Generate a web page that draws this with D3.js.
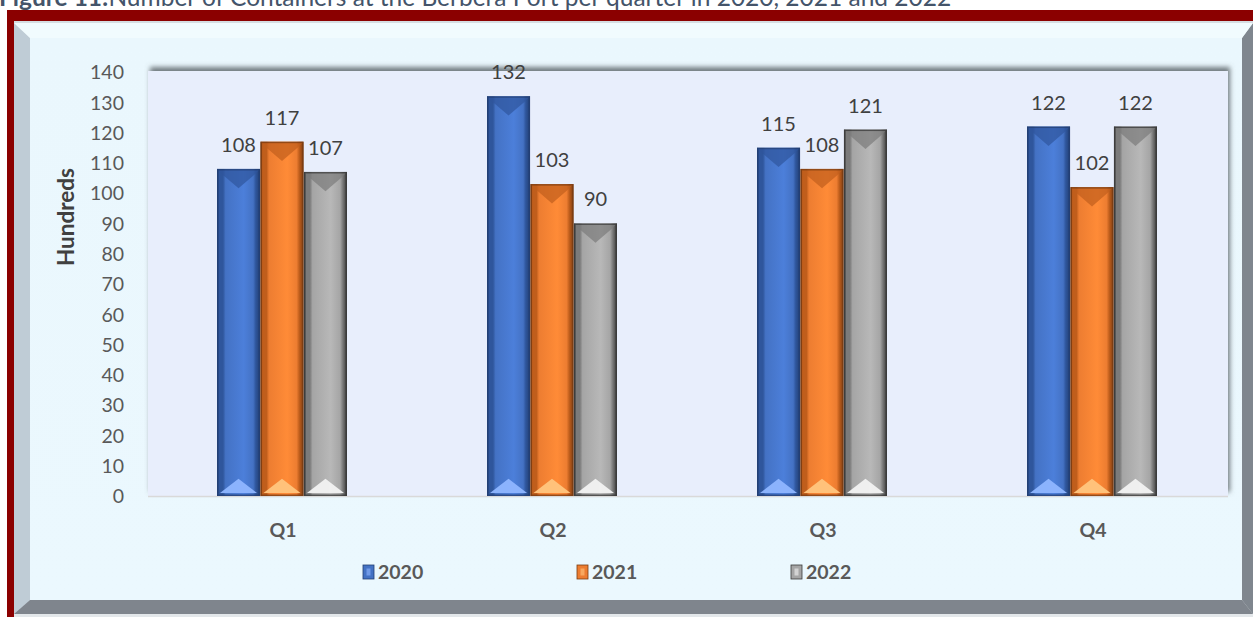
<!DOCTYPE html>
<html>
<head>
<meta charset="utf-8">
<script src="https://cdn.jsdelivr.net/npm/d3@7"></script>
<style>
  body { margin: 0; background: #fff; }
  svg { display: block; font-family: Lato, "Open Sans", sans-serif; }
</style>
</head>
<body>
<svg width="1253" height="617"></svg>
<script>
// datos
const quarters = ["Q1", "Q2", "Q3", "Q4"];
const years = ["2020", "2021", "2022"];
const values2020 = [108, 132, 115, 122];
const values2021 = [117, 103, 108, 102];
const values2022 = [107, 90, 121, 122];
const yTicks = [0, 10, 20, 30, 40, 50, 60, 70, 80, 90, 100, 110, 120, 130, 140];

const series = { "2020": values2020, "2021": values2021, "2022": values2022 };
const data = quarters.map((q, i) => ({ q, vals: years.map(y => ({ year: y, v: series[y][i] })) }));

// colores por año: base, oscuro, claro, borde
const pal = {
  "2020": { base: "#4472c4", dark: "#2f569c", light: "#8fb6ff", edge: "#233f73" },
  "2021": { base: "#ed7d31", dark: "#c05e1c", light: "#ffc57e", edge: "#7a3c12" },
  "2022": { base: "#a5a5a5", dark: "#7b7b7b", light: "#f2f2f2", edge: "#3a3a3a" }
};

const svg = d3.select("svg");
const defs = svg.append("defs");

// marco rojo (arriba e izquierda)
svg.append("rect").attr("x", 7).attr("y", 10).attr("width", 1246).attr("height", 607).attr("fill", "#8b0000");
svg.append("rect").attr("x", 14).attr("y", 614).attr("width", 1239).attr("height", 3).attr("fill", "#e3e7ea");

// panel con bisel
svg.append("rect").attr("x", 14).attr("y", 21).attr("width", 1239).attr("height", 593).attr("fill", "#d5dde2");
svg.append("polygon").attr("points", "14,23 30,38 30,600 14,614").attr("fill", "#bfccd6");
svg.append("polygon").attr("points", "1253,23 1242,38 1242,600 1253,614").attr("fill", "#7f868e");
svg.append("polygon").attr("points", "14,614 30,600 1242,600 1253,614").attr("fill", "#7f858d");
svg.append("polygon").attr("points", "14,23 1253,23 1242,38 30,38").attr("fill", "#f1fbfe");

const faceGrad = defs.append("linearGradient").attr("id", "face").attr("x1", 0).attr("y1", 0).attr("x2", 0).attr("y2", 1);
faceGrad.append("stop").attr("offset", "0%").attr("stop-color", "#eaf7fd");
faceGrad.append("stop").attr("offset", "100%").attr("stop-color", "#ebf8fe");
svg.append("rect").attr("x", 30).attr("y", 38).attr("width", 1212).attr("height", 562).attr("fill", "url(#face)");

// titulo (cortado arriba, como en la figura)
const title = svg.append("text").attr("x", -1).attr("y", 6)
  .attr("font-size", 24.5).attr("fill", "#44546a").attr("font-family", "Lato, sans-serif");
title.append("tspan").attr("font-weight", "bold").text("Figure 11:");
title.append("tspan").text("Number of Containers at the Berbera Port per quarter in 2020, 2021 and 2022");

// area de grafico
const plot = { left: 148, right: 1228, top: 71, bottom: 496 };

const sh = defs.append("filter").attr("id", "plotShadow").attr("x", "-5%").attr("y", "-20%").attr("width", "110%").attr("height", "140%");
sh.append("feDropShadow").attr("dx", 2).attr("dy", -4).attr("stdDeviation", 2.5)
  .attr("flood-color", "#5d666c").attr("flood-opacity", 0.85);

svg.append("rect")
  .attr("x", plot.left).attr("y", plot.top)
  .attr("width", plot.right - plot.left).attr("height", plot.bottom - plot.top)
  .attr("fill", "#e8eefc").attr("filter", "url(#plotShadow)");

const yScale = d3.scaleLinear().domain([0, 140]).range([plot.bottom, plot.top + 1]);
const x0 = d3.scaleBand().domain(quarters).range([plot.left, plot.right]).padding(0);
const x1 = d3.scaleBand().domain(years).range([69, 199]).paddingInner(0.01);

// linea base
svg.append("line").attr("x1", plot.left).attr("x2", plot.right)
  .attr("y1", plot.bottom + 0.5).attr("y2", plot.bottom + 0.5)
  .attr("stroke", "#d9d9d9").attr("stroke-width", 1.5);

// eje y
const yAxis = d3.axisLeft(yScale).tickValues(yTicks).tickSize(0).tickPadding(0);
svg.append("g").attr("transform", "translate(124,0)").call(yAxis)
  .call(g => g.select(".domain").remove())
  .call(g => g.selectAll("text").attr("font-size", 19.5).attr("fill", "#595959")
    .attr("font-family", "Lato, sans-serif").attr("dy", "0.35em"));

svg.append("text").attr("transform", "translate(74,217) rotate(-90)")
  .attr("text-anchor", "middle").attr("font-size", 22.5).attr("font-weight", "bold")
  .attr("fill", "#404040").text("Hundreds");

// eje x
const xAxis = d3.axisBottom(x0).tickSize(0).tickPadding(0);
svg.append("g").attr("transform", `translate(0,${plot.bottom})`).call(xAxis)
  .call(g => g.select(".domain").remove())
  .call(g => g.selectAll("text").attr("font-size", 19.5).attr("font-weight", "bold")
    .attr("fill", "#595959").attr("font-family", "Lato, sans-serif").attr("dy", "41"));

// gradientes horizontales de las barras
years.forEach(y => {
  const c = pal[y];
  const gr = defs.append("linearGradient").attr("id", "bar" + y).attr("x1", 0).attr("x2", 1).attr("y1", 0).attr("y2", 0);
  gr.append("stop").attr("offset", "0%").attr("stop-color", c.edge);
  gr.append("stop").attr("offset", "5%").attr("stop-color", c.dark);
  gr.append("stop").attr("offset", "14%").attr("stop-color", c.dark);
  gr.append("stop").attr("offset", "20%").attr("stop-color", c.base);
  gr.append("stop").attr("offset", "62%").attr("stop-color", d3.color(c.base).brighter(0.3));
  gr.append("stop").attr("offset", "84%").attr("stop-color", c.base);
  gr.append("stop").attr("offset", "90%").attr("stop-color", c.dark);
  gr.append("stop").attr("offset", "100%").attr("stop-color", c.edge);
});

// barras con bisel
const groups = svg.append("g").selectAll("g").data(data).join("g")
  .attr("transform", d => `translate(${x0(d.q) - plot.left},0)`);

groups.each(function(d) {
  const g = d3.select(this);
  d.vals.forEach(b => {
    const c = pal[b.year];
    const xa = plot.left + x1(b.year), w = x1.bandwidth();
    const xb = xa + w, xc = xa + w / 2;
    const ya = yScale(b.v), yb = yScale(0);
    g.append("rect").attr("x", xa).attr("y", ya).attr("width", w).attr("height", yb - ya)
      .attr("fill", `url(#bar${b.year})`);
    // bisel superior oscuro
    g.append("polygon")
      .attr("points", `${xa + 1},${ya + 1} ${xb - 1},${ya + 1} ${xb - 6},${ya + 6} ${xc},${ya + w * 0.45} ${xa + 6},${ya + 6}`)
      .attr("fill", c.dark).attr("opacity", 0.7);
    // bisel inferior claro
    g.append("polygon")
      .attr("points", `${xa + 3},${yb - 3} ${xc},${yb - w * 0.4} ${xb - 3},${yb - 3}`)
      .attr("fill", c.light).attr("opacity", 0.95);
    // borde
    g.append("rect").attr("x", xa + 0.75).attr("y", ya + 0.75).attr("width", w - 1.5).attr("height", yb - ya - 1.5)
      .attr("fill", "none").attr("stroke", c.edge).attr("stroke-width", 1.5).attr("opacity", 0.8);
    // etiqueta
    g.append("text").attr("x", xc).attr("y", ya - 17).attr("text-anchor", "middle")
      .attr("font-size", 20).attr("fill", "#404040").text(b.v);
  });
});

// leyenda
const legendX = d3.scalePoint().domain(years).range([363, 791]);
const leg = svg.append("g").selectAll("g").data(years).join("g")
  .attr("transform", y => `translate(${legendX(y)},565)`);
leg.append("rect").attr("width", 11).attr("height", 14).attr("fill", y => pal[y].base)
  .attr("stroke", y => pal[y].edge).attr("stroke-width", 0.8);
leg.append("rect").attr("x", 3.5).attr("y", 3.5).attr("width", 4).attr("height", 7)
  .attr("fill", y => pal[y].light).attr("opacity", 0.6);
leg.append("text").attr("x", 15).attr("y", 14).attr("font-size", 19.5).attr("font-weight", "bold")
  .attr("fill", "#595959").text(y => y);
</script>
</body>
</html>
